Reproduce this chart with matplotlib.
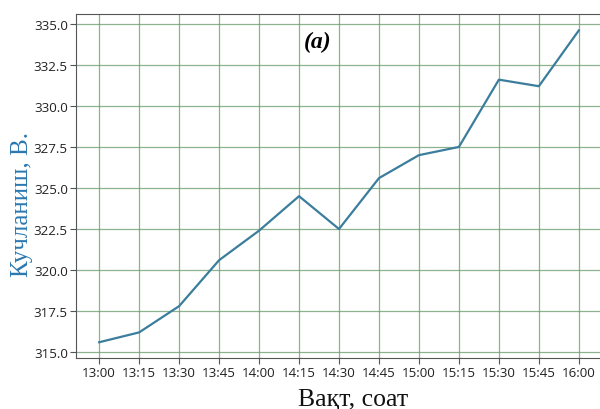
import matplotlib
matplotlib.use("Agg")
import matplotlib.pyplot as plt

times = ["13:00", "13:15", "13:30", "13:45", "14:00", "14:15", "14:30",
         "14:45", "15:00", "15:15", "15:30", "15:45", "16:00"]
voltage = [315.6, 316.2, 317.8, 320.6, 322.4, 324.5, 322.5,
           325.6, 327.0, 327.5, 331.6, 331.2, 334.6]
yticks = [315.0, 317.5, 320.0, 322.5, 325.0, 327.5, 330.0, 332.5, 335.0]

fig = plt.figure(figsize=(6, 4.1), dpi=100)
ax = fig.add_axes([0.127, 0.1244, 0.876, 0.839])
x = list(range(len(times)))
ax.plot(x, voltage, color="#3b7d9c", linewidth=1.6, zorder=3)
ax.set_xlim(-0.575, len(times) - 1 + 0.575)
ax.set_ylim(314.64, 335.6)
ax.set_xticks(x)
ax.set_xticklabels(times)
ax.set_yticks(yticks)
ax.set_yticklabels([f"{v:.1f}" for v in yticks])
ax.grid(True, color="#6f9f74", linewidth=0.9, alpha=0.8)
for lab in ax.get_xticklabels() + ax.get_yticklabels():
    lab.set_fontfamily("Open Sans")
    lab.set_fontsize(9.6)
    lab.set_color("#222222")
ax.tick_params(axis="both", length=4, width=0.8, color="#555555", pad=2)
for s in ax.spines.values():
    s.set_color("#555555")
    s.set_linewidth(0.8)
ax.set_xlabel("Вақт, соат", family="Liberation Serif", fontsize=18.5, color="#111111", va="center")
ax.xaxis.set_label_coords(0.526, -0.118)
ax.set_ylabel("Кучланиш, В.", family="Liberation Serif", fontsize=18, color="#2b78b0", va="center")
ax.yaxis.set_label_coords(-0.103, 0.45)
ax.text(0.46, 0.92, "(a)", transform=ax.transAxes, ha="center", va="center",
        family="Liberation Serif", fontsize=17, fontweight="bold", fontstyle="italic")
fig.savefig("out.png", dpi=100)
